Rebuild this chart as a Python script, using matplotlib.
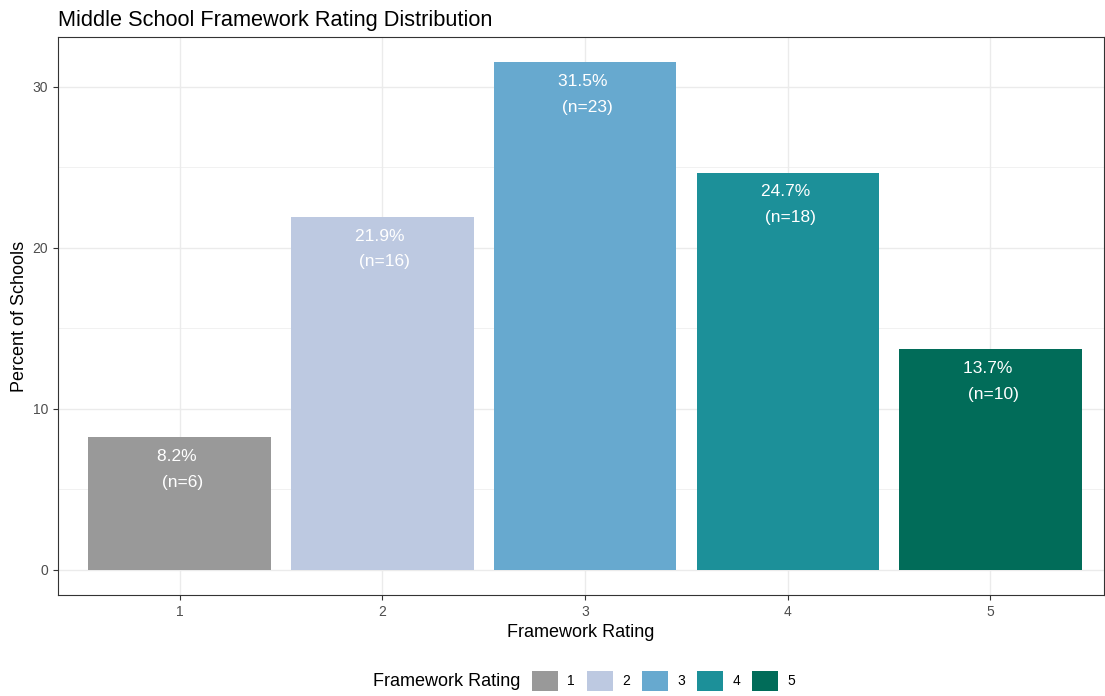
import matplotlib.pyplot as plt
from matplotlib.patches import Patch

plt.rcParams['font.family'] = ['Liberation Sans', 'DejaVu Sans']

ratings = [1, 2, 3, 4, 5]
counts = [6, 16, 23, 18, 10]
colors = ['#999999', '#BDC9E1', '#67A9CF', '#1C9099', '#016C59']

total = sum(counts)
percents = [c / total * 100 for c in counts]

fig = plt.figure(figsize=(11.05, 6.96), dpi=100)
ax = fig.add_axes([58 / 1105, 1 - 595 / 696, 1046 / 1105, 558 / 696])

# grid (theme_bw style)
for y in [5, 15, 25]:
    ax.axhline(y, color='#EBEBEB', lw=0.5, zorder=0)
for y in [0, 10, 20, 30]:
    ax.axhline(y, color='#EBEBEB', lw=1.0, zorder=0)
for x in ratings:
    ax.axvline(x, color='#EBEBEB', lw=1.0, zorder=0)

ax.bar(ratings, percents, width=0.9, color=colors, zorder=2)

for x, p, n in zip(ratings, percents, counts):
    ax.annotate(f'{p:.1f}% \n (n={n})', (x, p), xytext=(0, -23.2),
                textcoords='offset points', ha='center', va='center',
                color='white', fontsize=12.5, linespacing=1.88, zorder=3)

ax.set_xlim(0.4, 5.56)
ax.set_ylim(-1.575, 33.075)
ax.set_xticks(ratings)
ax.set_yticks([0, 10, 20, 30])
ax.tick_params(colors='#333333', labelcolor='#4D4D4D', labelsize=10, length=3.5, width=0.8)
for s in ax.spines.values():
    s.set_color('#333333')
    s.set_linewidth(0.8)

ax.set_xlabel('Framework Rating', fontsize=13, labelpad=4)
ax.set_ylabel('Percent of Schools', fontsize=13, labelpad=3)
ax.set_title('Middle School Framework Rating Distribution', fontsize=15.7, loc='left', pad=8)

handles = [Patch(facecolor=c, label=str(r)) for r, c in zip(ratings, colors)]
fig.legend(handles=handles, loc='center left', bbox_to_anchor=(532 / 1105, 1 - 681 / 696), ncol=5,
           frameon=False, fontsize=10, handlelength=1.85, handleheight=1.85,
           handletextpad=0.7, columnspacing=0.85, borderpad=0, borderaxespad=0)
fig.text(373 / 1105, 1 - 681 / 696, 'Framework Rating', fontsize=13, va='center', ha='left')

fig.savefig('out.png', dpi=100)
